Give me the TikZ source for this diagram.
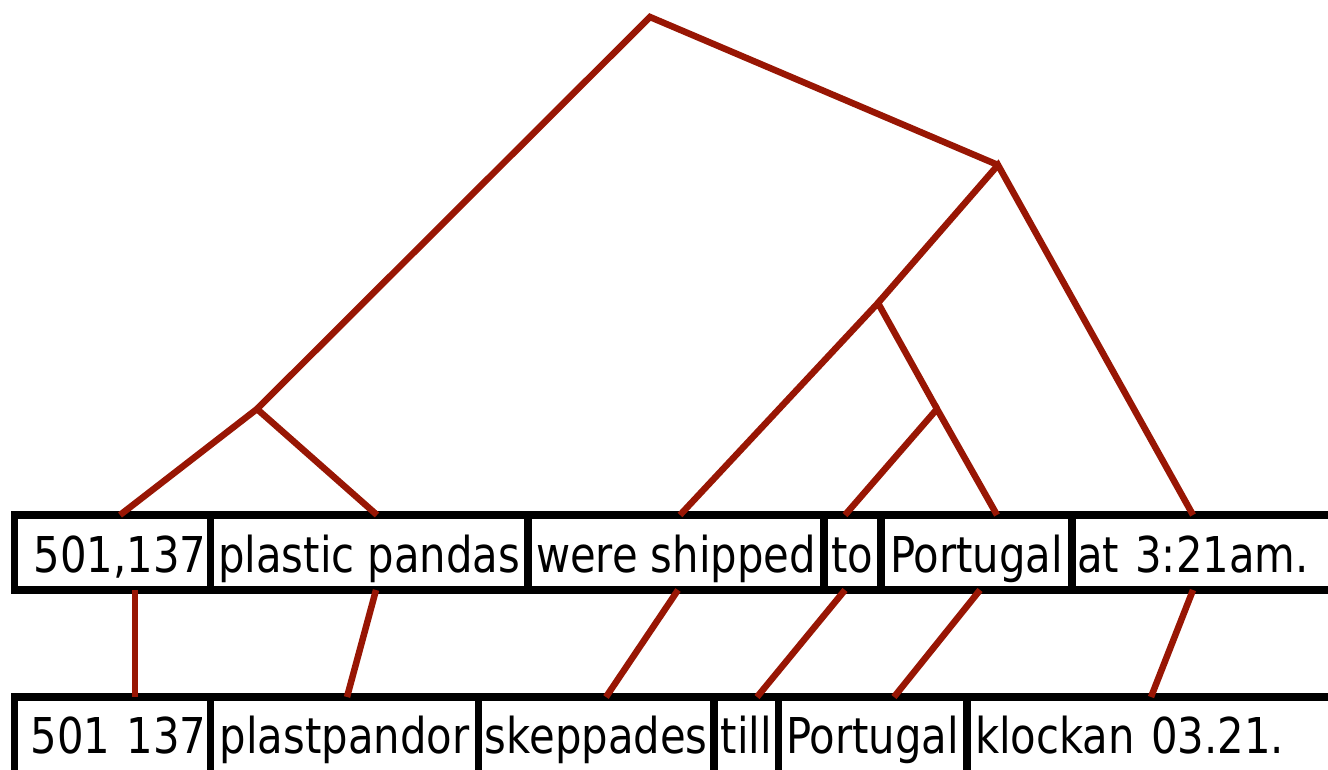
\documentclass[tikz,border=0pt]{standalone}
\usepackage{fontspec}
\setmainfont[FakeStretch=0.94]{DejaVu Sans Condensed}
\definecolor{linkred}{RGB}{152,22,4}

\begin{document}
\begin{tikzpicture}[x=0.02cm,y=-0.02cm,
	word/.style={draw, line width=0.15cm, inner sep=0pt, outer sep=0pt,
		text height=1.008cm, font=\fontsize{28.1}{30}\selectfont},
	engword/.style={word, minimum height=1.5cm, text depth=0.2cm},
	sveword/.style={word, minimum height=1.8cm, text depth=0.556cm},
	branch/.style={linkred, line width=0.13cm}]
	\useasboundingbox (0,0) rectangle (1328,770);
	% english sentence
	\node[engword, minimum width=3.92cm, text width=3.76cm, align=right] (e1) at (112.5,552.5) {501,137};
	\node[engword, minimum width=6.35cm] (e2) at (369.25,552.5) {plastic pandas};
	\node[engword, minimum width=5.92cm] (e3) at (676,552.5) {were shipped};
	\node[engword, minimum width=1.14cm] (e4) at (852.5,552.5) {to};
	\node[engword, minimum width=3.82cm] (e5) at (976.5,552.5) {Portugal};
	\node[engword, minimum width=5.46cm, text width=5.26cm, align=left] (e6) at (1208.5,552.5) {at 3:21am.};
	% swedish sentence
	\node[sveword, minimum width=3.92cm, text width=3.76cm, align=right] (s1) at (112.5,742) {501 137};
	\node[sveword, minimum width=5.36cm] (s2) at (344.5,742) {plastpandor};
	\node[sveword, minimum width=4.71cm] (s3) at (596.25,742) {skeppades};
	\node[sveword, minimum width=1.29cm] (s4) at (746.25,742) {till};
	\node[sveword, minimum width=3.77cm] (s5) at (872.75,742) {Portugal};
	\node[sveword, minimum width=7.56cm, text width=7.24cm, align=left] (s6) at (1156,742) {klockan 03.21.};
	% tree
	\coordinate (t1) at (650,17);
	\coordinate (t2) at (257,409);
	\coordinate (t3) at (998,165);
	\coordinate (t4) at (878,303);
	\coordinate (t5) at (937,409);
	\draw[branch] (t2) -- (t1) -- (t3);
	\draw[branch] (e1.north -| 120,0) -- (t2) -- (e2.north -| 377,0);
	\draw[branch] (t4) -- (t3) -- (e6.north -| 1193,0);
	\draw[branch] (e3.north -| 680,0) -- (t4) -- (t5);
	\draw[branch] (e4.north -| 845,0) -- (t5) -- (e5.north -| 997,0);
	% alignment
	\draw[branch] (e1.south -| 135,0) -- (s1.north -| 135,0);
	\draw[branch] (e2.south -| 376,0) -- (s2.north -| 347,0);
	\draw[branch] (e3.south -| 678,0) -- (s3.north -| 606,0);
	\draw[branch] (e4.south -| 845,0) -- (s4.north -| 757,0);
	\draw[branch] (e5.south -| 980,0) -- (s5.north -| 894,0);
	\draw[branch] (e6.south -| 1193,0) -- (s6.north -| 1151,0);
\end{tikzpicture}
\end{document}
